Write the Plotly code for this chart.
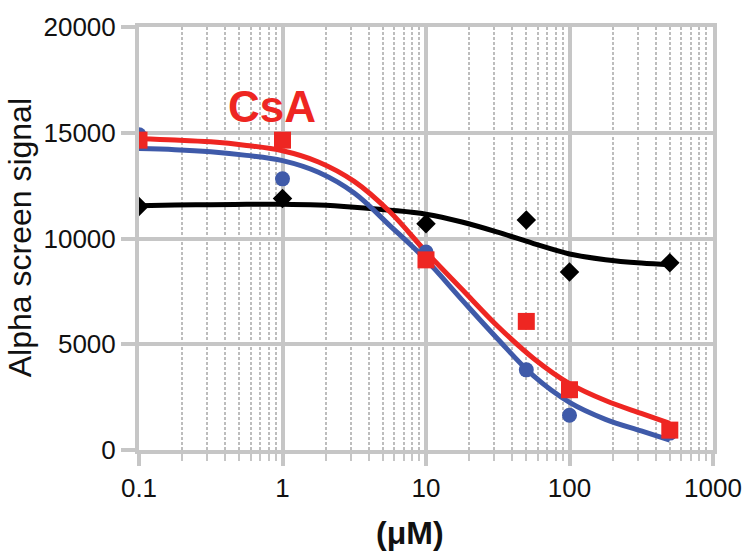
import plotly.graph_objects as go

# ---- data ----
conc = [0.1, 1, 10, 50, 100, 500]
red_pts = [14650, 14650, 8990, 6080, 2850, 940]
blue_pts = [14900, 12820, 9360, 3790, 1640, 800]
black_pts = [11510, 11890, 10700, 10880, 8420, 8850]

# fitted curves at quarter-decade steps
curve_x = [0.1, 0.178, 0.316, 0.562, 1, 1.78, 3.16, 5.62, 10, 17.8, 31.6, 56.2, 100, 178, 316, 500]
red_curve = [14720, 14660, 14570, 14400, 14150, 13620, 12700, 11250, 9370, 7600, 5850, 4330,
             3140, 2340, 1730, 1260]
blue_curve = [14250, 14200, 14100, 13930, 13680, 13130, 12150, 10600, 8990, 7100, 5250, 3500,
              2250, 1450, 900, 470]
black_curve = [11550, 11580, 11600, 11615, 11620, 11580, 11480, 11340, 11150, 10780, 10300, 9760,
               9270, 9000, 8840, 8760]

x_tickvals = [0.1, 1, 10, 100, 1000]
x_ticktext = ["0.1", "1", "10", "100", "1000"]
y_tickvals = [0, 5000, 10000, 15000, 20000]
y_ticktext = ["0", "5000", "10000", "15000", "20000"]

RED = "#ee2622"
BLUE = "#3f5aa9"
BLACK = "#000000"
GRID = "#c6c6c6"
FONT = "Liberation Sans, Arial, sans-serif"

fig = go.Figure()
for cy, col in [(black_curve, BLACK), (blue_curve, BLUE), (red_curve, RED)]:
    fig.add_trace(go.Scatter(x=curve_x, y=cy, mode="lines",
                             line=dict(color=col, width=5, shape="spline", smoothing=1.0),
                             showlegend=False, hoverinfo="skip"))
fig.add_trace(go.Scatter(x=conc, y=black_pts, mode="markers",
                         marker=dict(symbol="diamond", size=15, color=BLACK), showlegend=False))
fig.add_trace(go.Scatter(x=conc, y=blue_pts, mode="markers",
                         marker=dict(symbol="circle", size=15, color=BLUE), showlegend=False))
fig.add_trace(go.Scatter(x=conc, y=red_pts, mode="markers",
                         marker=dict(symbol="square", size=17, color=RED), showlegend=False))

fig.update_layout(
    width=754, height=554,
    margin=dict(l=139, r=39, t=23, b=104),
    paper_bgcolor="white", plot_bgcolor="white",
    font=dict(family=FONT, color="#111111"),
    xaxis=dict(
        type="log", range=[-1, 3],
        tickmode="array", tickvals=x_tickvals, ticktext=x_ticktext,
        tickfont=dict(size=26, family=FONT),
        ticks="outside", ticklen=12, tickwidth=4, tickcolor=GRID,
        showgrid=True, gridcolor=GRID, gridwidth=4,
        showline=True, linecolor=GRID, linewidth=4, mirror=True,
        zeroline=False,
        minor=dict(dtick="D1", ticks="outside", ticklen=7, tickwidth=2, tickcolor=GRID,
                   showgrid=True, gridcolor="#bdbdbd", gridwidth=1.5, griddash="3px,2px"),
    ),
    yaxis=dict(
        range=[0, 20000],
        tickmode="array", tickvals=y_tickvals, ticktext=y_ticktext,
        tickfont=dict(size=26, family=FONT),
        ticks="outside", ticklen=14, tickwidth=4, tickcolor=GRID,
        showgrid=True, gridcolor=GRID, gridwidth=4,
        showline=True, linecolor=GRID, linewidth=4, mirror=True,
        zeroline=False,
    ),
    annotations=[
        dict(text="Alpha screen signal", xref="paper", yref="paper",
             x=-0.207, y=0.501, xanchor="center", yanchor="middle", textangle=-90,
             showarrow=False, font=dict(size=32, family=FONT, color="#111111")),
        dict(text="<b>(μM)</b>", xref="paper", yref="paper",
             x=0.472, y=-0.197, xanchor="center", yanchor="middle",
             showarrow=False, font=dict(size=32, family=FONT, color="#111111")),
        dict(text="<b>CsA</b>", xref="paper", yref="paper",
             x=0.231, y=0.813, xanchor="center", yanchor="middle",
             showarrow=False, font=dict(size=44, family=FONT, color=RED)),
    ],
)

fig.write_html("out.html")
